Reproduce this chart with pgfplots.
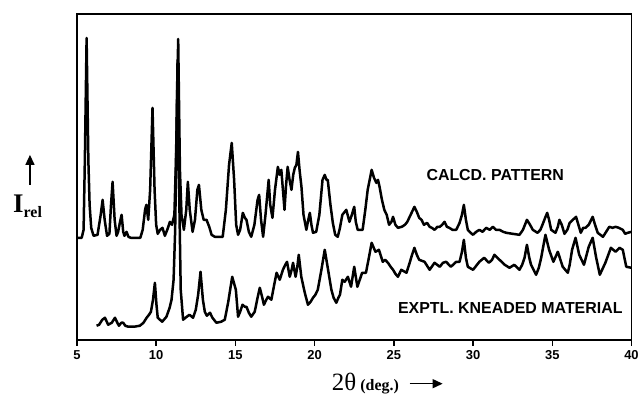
\documentclass[border=0pt]{standalone}
\usepackage{fontspec}
\setmainfont{Liberation Serif}
\setsansfont{Liberation Sans}
\usepackage{pgfplots}
\pgfplotsset{compat=1.18}
\usetikzlibrary{arrows.meta}

\begin{document}
\begin{tikzpicture}
\begin{axis}[
    scale only axis,
    width=555bp, height=326bp,
    xmin=5, xmax=40, ymin=0, ymax=326,
    xtick={5,10,...,40},
    ytick=\empty,
    xtick pos=lower,
    tick align=outside,
    major tick length=6bp,
    tick style={black, line width=1.4bp},
    axis line style={black, line width=1.8bp},
    /pgf/number format/assume math mode=true,
    xticklabel style={font=\fontsize{13}{13}\selectfont\sffamily\bfseries, yshift=-1bp},
]
% calculated pattern (offset upward)
\addplot[black, line width=2.5bp, line join=round] coordinates {
(5.0,102) (5.3,102) (5.42,110) (5.5,180) (5.61,302) (5.72,180) (5.8,135) (5.9,112)
(6.05,104) (6.3,105) (6.5,125) (6.62,140) (6.75,120) (6.9,104) (7.05,106) (7.15,135)
(7.25,158) (7.38,120) (7.5,104) (7.6,108) (7.72,118) (7.82,125) (7.92,108) (8.0,104)
(8.13,108) (8.25,103) (8.4,102) (9.0,102) (9.15,110) (9.3,130) (9.38,135) (9.5,120)
(9.62,150) (9.77,232) (9.9,150) (10.0,115) (10.1,106) (10.25,110) (10.4,112) (10.55,104)
(10.7,110) (10.87,118) (11.0,115) (11.15,125) (11.25,180) (11.39,301) (11.5,170) (11.6,125)
(11.75,110) (11.9,130) (12.0,158) (12.12,130) (12.3,108) (12.45,120) (12.6,150) (12.7,155)
(12.85,130) (13.0,120) (13.18,120) (13.35,113) (13.5,105) (13.7,103) (14.2,103) (14.4,130)
(14.6,175) (14.77,197) (14.92,160) (15.05,115) (15.17,105) (15.3,110) (15.47,127) (15.6,122)
(15.7,120) (15.85,108) (16.0,103) (16.2,115) (16.4,140) (16.5,145) (16.62,120) (16.75,103)
(16.9,125) (17.1,160) (17.2,135) (17.34,122) (17.5,150) (17.68,173) (17.8,165) (17.9,170)
(18.0,150) (18.1,130) (18.2,155) (18.3,173) (18.42,160) (18.54,150) (18.65,165) (18.75,172)
(18.85,175) (18.95,188) (19.05,170) (19.17,153) (19.3,125) (19.48,110) (19.6,120) (19.7,127)
(19.8,115) (19.9,107) (20.1,108) (20.3,125) (20.5,160) (20.64,165) (20.75,160) (20.83,160)
(21.0,135) (21.15,117) (21.3,105) (21.46,103) (21.6,112) (21.75,125) (21.9,128) (22.0,130)
(22.1,124) (22.2,118) (22.35,125) (22.5,133) (22.6,118) (22.72,110) (23.03,110) (23.2,130)
(23.35,150) (23.6,170) (23.75,162) (23.9,157) (24.0,160) (24.1,153) (24.25,140) (24.4,130)
(24.55,125) (24.7,115) (24.85,118) (24.95,123) (25.1,115) (25.26,112) (25.5,113) (25.7,115)
(25.85,118) (26.0,123) (26.15,128) (26.3,133) (26.45,128) (26.6,122) (26.75,120) (26.9,115)
(27.1,117) (27.26,113) (27.4,112) (27.57,110) (27.75,113) (27.9,113) (28.05,115) (28.2,118)
(28.35,113) (28.5,112) (28.7,110) (28.94,110) (29.15,117) (29.3,125) (29.42,135) (29.55,120)
(29.67,110) (29.85,107) (30.0,105) (30.2,108) (30.4,110) (30.6,108) (30.83,112) (31.05,110)
(31.25,113) (31.45,110) (31.67,110) (31.9,108) (32.1,107) (32.5,106) (32.93,105) (33.15,110)
(33.4,120) (33.6,115) (33.77,110) (34.07,107) (34.25,110) (34.38,115) (34.55,122) (34.68,127)
(34.8,120) (34.93,110) (35.2,107) (35.35,113) (35.45,120) (35.6,115) (35.77,106) (35.95,110)
(36.1,117) (36.3,120) (36.5,123) (36.65,115) (36.8,107) (36.95,112) (37.1,112) (37.3,115)
(37.55,123) (37.7,115) (37.87,107) (38.2,103) (38.4,108) (38.6,113) (38.8,112) (39.0,113)
(39.2,112) (39.45,110) (39.6,106) (39.76,107) (40.0,108)
};
% experimental kneaded material
\addplot[black, line width=2.5bp, line join=round] coordinates {
(6.24,14) (6.4,15) (6.6,20) (6.77,22) (6.97,15) (7.2,17) (7.4,22) (7.55,17)
(7.65,14) (7.8,17) (7.92,17) (8.05,14) (8.24,13) (8.6,13) (8.97,14) (9.2,17)
(9.4,22) (9.55,25) (9.67,28) (9.8,40) (9.92,57) (10.02,35) (10.1,22) (10.38,18)
(10.65,23) (10.85,32) (10.97,40) (11.1,60) (11.2,110) (11.35,280) (11.45,150) (11.55,50)
(11.7,20) (11.85,22) (12.1,25) (12.33,22) (12.5,30) (12.65,45) (12.8,68) (12.95,40)
(13.07,28) (13.2,24) (13.4,27) (13.55,22) (13.8,17) (14.1,18) (14.33,20) (14.54,37)
(14.8,63) (15.03,50) (15.17,23) (15.3,28) (15.45,35) (15.6,33) (15.7,33) (15.85,27)
(16.0,23) (16.22,28) (16.4,42) (16.54,52) (16.7,42) (16.8,35) (16.95,40) (17.06,43)
(17.27,40) (17.45,55) (17.6,67) (17.8,60) (18.0,70) (18.15,75) (18.26,78) (18.43,63)
(18.55,70) (18.64,77) (18.8,63) (18.9,72) (19.0,85) (19.16,63) (19.38,47) (19.58,35)
(19.75,38) (19.9,42) (20.05,45) (20.2,50) (20.43,70) (20.64,90) (20.85,70) (21.06,50)
(21.2,42) (21.37,37) (21.5,42) (21.6,45) (21.75,60) (21.9,58) (22.1,63) (22.3,53)
(22.5,73) (22.7,53) (22.85,60) (23.0,67) (23.24,67) (23.4,80) (23.6,97) (23.84,88)
(24.06,90) (24.3,78) (24.45,80) (24.63,77) (24.8,73) (24.95,70) (25.1,66) (25.26,63)
(25.47,70) (25.8,67) (26.0,77) (26.15,85) (26.3,92) (26.45,85) (26.6,80) (26.94,78)
(27.1,74) (27.26,70) (27.57,77) (27.9,73) (28.1,77) (28.3,78) (28.6,73) (28.94,78)
(29.15,78) (29.3,88) (29.42,100) (29.55,82) (29.67,73) (30.0,70) (30.2,74) (30.4,78)
(30.7,82) (31.0,77) (31.2,80) (31.35,85) (31.67,80) (32.0,75) (32.3,72) (32.6,75)
(32.93,70) (33.1,75) (33.25,82) (33.4,95) (33.55,82) (33.66,75) (33.98,65) (34.15,72)
(34.3,82) (34.45,95) (34.57,105) (34.8,90) (35.07,78) (35.35,88) (35.66,73) (35.98,67)
(36.1,75) (36.25,90) (36.47,102) (36.7,85) (37.0,75) (37.3,93) (37.55,102) (37.76,83)
(38.0,65) (38.35,77) (38.7,92) (39.0,88) (39.24,92) (39.45,90) (39.67,73) (40.0,72)
};
\node[font=\fontsize{16}{16}\selectfont\sffamily\bfseries] at (axis cs:31.4,165) {CALCD. PATTERN};
\node[font=\fontsize{16}{16}\selectfont\sffamily\bfseries] at (axis cs:32.35,32) {EXPTL. KNEADED MATERIAL};
\coordinate (sw) at (rel axis cs:0,0);
\coordinate (ne) at (rel axis cs:1,1);
\end{axis}
% x axis label
\node[anchor=base west, inner sep=0pt] (xl) at ([shift={(255bp,-51bp)}]sw)
  {\fontsize{25}{25}\selectfont 2θ\,\fontsize{16}{16}\selectfont\bfseries (deg.)};
\draw[black, line width=1.4bp, -{Triangle[length=10bp,width=9bp]}]
  ([shift={(333bp,-44bp)}]sw) -- ([shift={(366bp,-44bp)}]sw);
% y axis label
\draw[black, line width=1.4bp, -{Triangle[length=10bp,width=9bp]}]
  ([shift={(-47bp,155bp)}]sw) -- ([shift={(-47bp,185bp)}]sw);
\node[anchor=base west, inner sep=0pt] at ([shift={(-64bp,127bp)}]sw)
  {\fontsize{27}{27}\selectfont\bfseries I\fontsize{16}{16}\selectfont\raisebox{-5bp}{rel}};
\path ([shift={(-77bp,-63bp)}]sw) rectangle ([shift={(10bp,14bp)}]ne);
\end{tikzpicture}
\end{document}
